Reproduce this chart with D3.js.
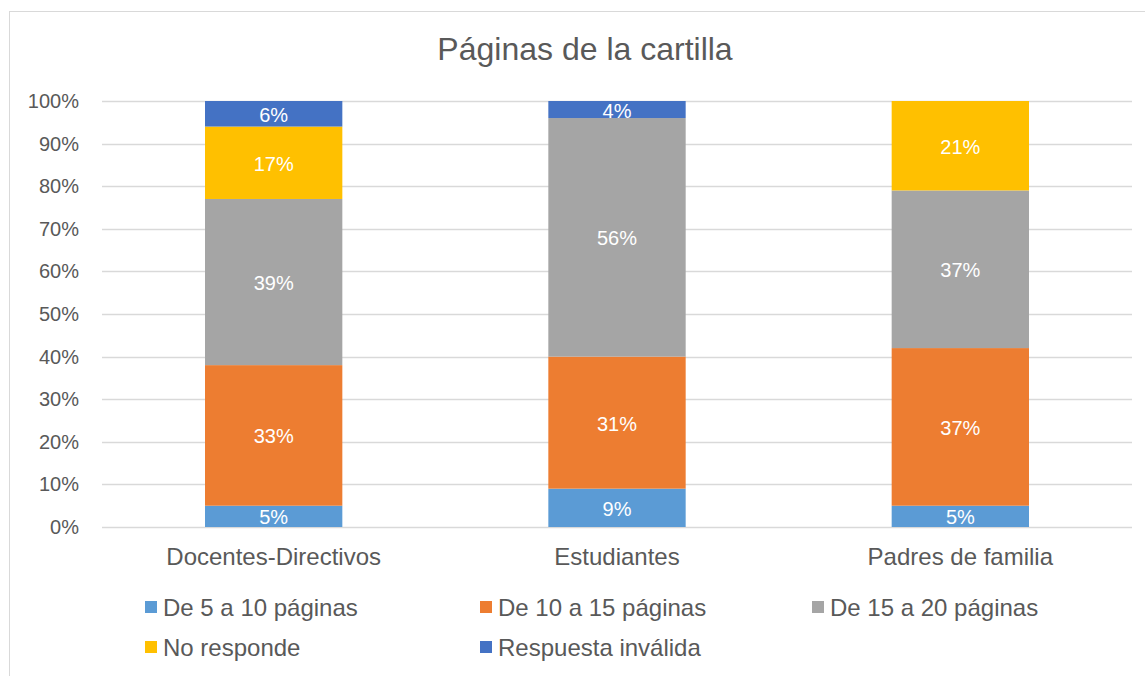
<!DOCTYPE html>
<html>
<head>
<meta charset="utf-8">
<script src="https://cdn.jsdelivr.net/npm/d3@7"></script>
<style>
  body { margin: 0; background: #fff; }
  svg { display: block; font-family: "Liberation Sans", Arial, sans-serif; }
</style>
</head>
<body>
<div id="grafico"></div>
<script>
// Datos del gráfico
const categorias = ['Docentes-Directivos', 'Estudiantes', 'Padres de familia'];
const series = ['De 5 a 10 páginas', 'De 10 a 15 páginas', 'De 15 a 20 páginas', 'No responde', 'Respuesta inválida'];
const de5a10 = [5, 9, 5];
const de10a15 = [33, 31, 37];
const de15a20 = [39, 56, 37];
const noResponde = [17, 0, 21];
const invalida = [6, 4, 0];
const ticksY = [0, 10, 20, 30, 40, 50, 60, 70, 80, 90, 100];

const valores = [de5a10, de10a15, de15a20, noResponde, invalida];
const colores = ['#5B9BD5', '#ED7D31', '#A5A5A5', '#FFC000', '#4472C4'];

const largura = 1145, altura = 676;
const margin = { top: 101, bottom: 149, left: 102, right: 13 };

const svg = d3.select('#grafico')
    .append('svg')
    .attr('width', largura)
    .attr('height', altura);

// Borde del área del gráfico
svg.append('rect')
    .attr('x', 9.5).attr('y', 11.5)
    .attr('width', largura + 10).attr('height', altura + 10)
    .attr('fill', 'none')
    .attr('stroke', '#D9D9D9')
    .attr('stroke-width', 1);

// Título
svg.append('text')
    .attr('x', 585)
    .attr('y', 60)
    .attr('text-anchor', 'middle')
    .style('font-size', '32px')
    .style('fill', '#595959')
    .text('Páginas de la cartilla');

// Escalas
const x = d3.scaleBand()
    .domain(categorias)
    .range([margin.left, largura - margin.right])
    .paddingInner(0.6)
    .paddingOuter(0.3);

const y = d3.scaleLinear()
    .domain([0, 100])
    .range([altura - margin.bottom, margin.top]);

// Líneas de cuadrícula
svg.append('g')
    .selectAll('line')
    .data(ticksY)
    .enter()
    .append('line')
    .attr('x1', margin.left)
    .attr('x2', largura - margin.right)
    .attr('y1', d => Math.round(y(d)) + 0.5)
    .attr('y2', d => Math.round(y(d)) + 0.5)
    .attr('stroke', '#D9D9D9')
    .attr('stroke-width', 1.5);

// Eje Y
const ejeY = svg.append('g')
    .attr('transform', `translate(${margin.left - 23}, 0)`)
    .call(d3.axisLeft(y).tickValues(ticksY).tickSize(0).tickFormat(d => d + '%'));
ejeY.select('.domain').remove();
ejeY.selectAll('text')
    .attr('x', 0)
    .style('font-size', '20px')
    .style('fill', '#595959')
    .style('font-family', '"Liberation Sans", Arial, sans-serif');

// Apilado
const tabla = categorias.map((c, i) => {
    const fila = { categoria: c };
    series.forEach((s, j) => { fila[s] = valores[j][i]; });
    return fila;
});
const pilas = d3.stack().keys(series)(tabla);

const grupos = svg.append('g')
    .selectAll('g')
    .data(pilas)
    .enter()
    .append('g')
    .attr('fill', (d, i) => colores[i]);

grupos.selectAll('rect')
    .data(d => d)
    .enter()
    .append('rect')
    .attr('x', d => x(d.data.categoria))
    .attr('y', d => y(d[1]))
    .attr('width', x.bandwidth())
    .attr('height', d => y(d[0]) - y(d[1]));

// Etiquetas de valores
grupos.selectAll('text')
    .data(d => d.filter(p => p[1] - p[0] > 0))
    .enter()
    .append('text')
    .attr('x', d => x(d.data.categoria) + x.bandwidth() / 2)
    .attr('y', d => (y(d[0]) + y(d[1])) / 2 + 8)
    .attr('text-anchor', 'middle')
    .style('fill', '#FFFFFF')
    .style('font-size', '20px')
    .text(d => (d[1] - d[0]) + '%');

// Eje X
const ejeX = svg.append('g')
    .attr('transform', `translate(0, ${y(0)})`)
    .call(d3.axisBottom(x).tickSize(0));
ejeX.select('.domain').remove();
ejeX.selectAll('text')
    .attr('y', 19)
    .attr('dy', '0.8em')
    .style('font-size', '24px')
    .style('fill', '#595959')
    .style('font-family', '"Liberation Sans", Arial, sans-serif');

// Leyenda
const posLeyenda = [[145, 607], [480, 607], [812, 607], [145, 647], [480, 647]];
const leyenda = svg.append('g')
    .selectAll('g')
    .data(series)
    .enter()
    .append('g')
    .attr('transform', (d, i) => `translate(${posLeyenda[i][0]}, ${posLeyenda[i][1]})`);

leyenda.append('rect')
    .attr('x', 0).attr('y', -6)
    .attr('width', 12).attr('height', 12)
    .attr('fill', (d, i) => colores[i]);

leyenda.append('text')
    .attr('x', 18)
    .attr('y', 8.5)
    .style('font-size', '24px')
    .style('fill', '#595959')
    .text(d => d);
</script>
</body>
</html>
